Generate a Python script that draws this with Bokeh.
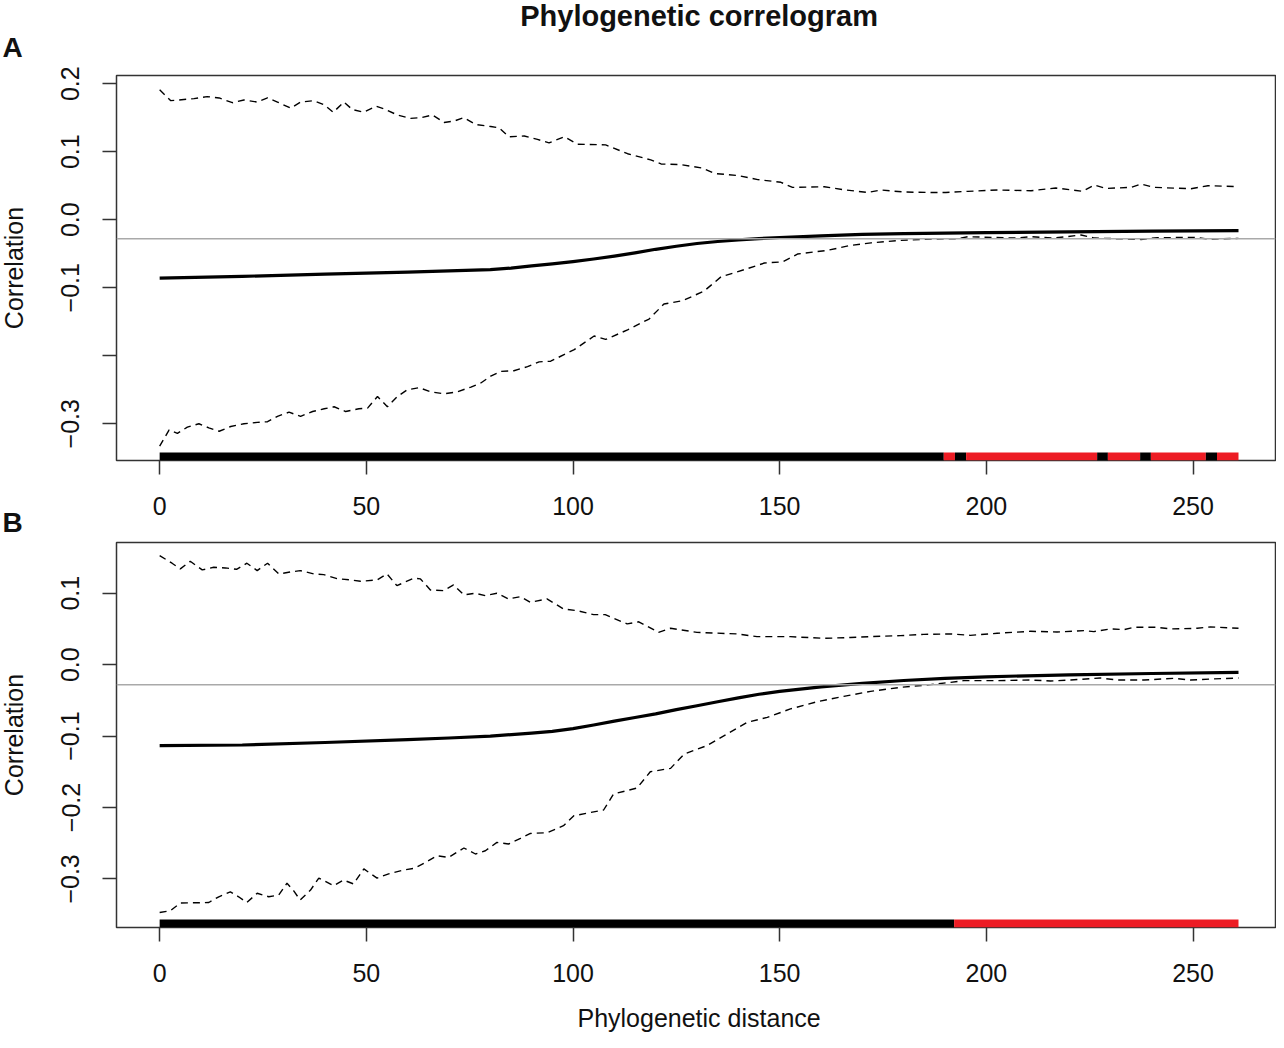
import math
from bokeh.plotting import figure
from bokeh.models import Range1d, FixedTicker, Label, Span
from bokeh.layouts import column
from bokeh.embed import file_html
from bokeh.resources import INLINE

# ---------------- data ----------------
x_ticks = [0, 50, 100, 150, 200, 250]
x_tick_labels = ["0", "50", "100", "150", "200", "250"]

yA_ticks = [-0.3, -0.2, -0.1, 0.0, 0.1, 0.2]
yA_tick_labels = ["\u22120.3", "", "\u22120.1", "0.0", "0.1", "0.2"]
yB_ticks = [-0.3, -0.2, -0.1, 0.0, 0.1]
yB_tick_labels = ["\u22120.3", "\u22120.2", "\u22120.1", "0.0", "0.1"]

# Panel A: correlation curve
A_corr_x = [0, 20, 40, 60, 80, 85, 90, 95, 100, 105, 110, 115, 120, 125, 130, 135, 140, 145,
            150, 160, 170, 180, 200, 220, 240, 261]
A_corr_y = [-0.0858, -0.0833, -0.0800, -0.0770, -0.0735, -0.0712, -0.0680, -0.0650, -0.0615,
            -0.0578, -0.0535, -0.0487, -0.0435, -0.0390, -0.0350, -0.0320, -0.0297, -0.0277,
            -0.0262, -0.0237, -0.0217, -0.0205, -0.0190, -0.0178, -0.0168, -0.0160]

# Panel A: upper confidence envelope
A_up_x = [0, 2.7, 8.3, 11.5, 14.4, 17.6, 20.4, 23.6, 26.1, 28.5, 31.7, 34.1, 37.3, 39.8, 42.0,
          44.6, 46.6, 49.4, 52.3, 54.3, 57.5, 60.7, 63.2, 66.0, 68.8, 71.2, 73.6, 76.5, 80.1,
          82.1, 84.5, 88.2, 91.4, 94.2, 97.9, 101.1, 107.9, 113.2, 118.8, 121.3, 126.1, 131.3,
          134.2, 139.8, 144.7, 150.3, 153.1, 160.8, 165.6, 171.3, 174.5, 180.1, 186.6, 190.2,
          195.5, 202.7, 210.8, 216.8, 223.3, 226.1, 228.9, 235.0, 237.4, 240.6, 249.5, 253.6,
          261]
A_up_y = [0.191, 0.175, 0.178, 0.181, 0.179, 0.172, 0.176, 0.173, 0.179, 0.173, 0.164, 0.173,
          0.175, 0.169, 0.158, 0.173, 0.162, 0.158, 0.167, 0.163, 0.154, 0.149, 0.150, 0.154,
          0.143, 0.145, 0.150, 0.140, 0.137, 0.135, 0.122, 0.123, 0.118, 0.113, 0.122, 0.111,
          0.110, 0.097, 0.088, 0.082, 0.081, 0.076, 0.068, 0.065, 0.059, 0.055, 0.0475, 0.0485,
          0.044, 0.040, 0.0437, 0.0407, 0.040, 0.040, 0.0417, 0.0437, 0.0426, 0.0466, 0.0417,
          0.051, 0.046, 0.0475, 0.0525, 0.0475, 0.0456, 0.050, 0.0485]

# Panel A: lower confidence envelope
A_lo_x = [0, 2.3, 4.3, 6.7, 9.5, 11.9, 14.4, 17.2, 20.4, 23.6, 26.1, 28.5, 31.3, 34.1, 37.0,
          39.8, 42.2, 45.0, 48.2, 50.3, 52.7, 55.1, 57.5, 59.9, 62.8, 65.6, 68.8, 72.0, 75.3,
          77.7, 80.1, 82.5, 85.7, 89.0, 91.8, 94.6, 100.3, 105.1, 107.9, 113.2, 118.4, 122.0,
          126.5, 131.7, 135.8, 141.4, 146.3, 150.7, 154.3, 161.6, 167.2, 172.1, 179.3, 186.6,
          193.0, 195.5, 206.8, 210.8, 216.4, 222.9, 226.1, 237.4, 241.4, 250.3, 253.6, 261]
A_lo_y = [-0.333, -0.309, -0.314, -0.305, -0.300, -0.306, -0.311, -0.304, -0.300, -0.298,
          -0.297, -0.289, -0.283, -0.289, -0.282, -0.278, -0.275, -0.282, -0.278, -0.277,
          -0.260, -0.275, -0.260, -0.250, -0.247, -0.253, -0.256, -0.253, -0.246, -0.240,
          -0.230, -0.223, -0.222, -0.216, -0.209, -0.208, -0.191, -0.171, -0.176, -0.162,
          -0.146, -0.124, -0.119, -0.105, -0.084, -0.0735, -0.0637, -0.062, -0.0505, -0.045,
          -0.0377, -0.034, -0.0304, -0.0284, -0.028, -0.025, -0.027, -0.025, -0.027, -0.0225,
          -0.027, -0.029, -0.0265, -0.026, -0.0284, -0.0275]

# Panel A: significance bar (breaks along distance, significant = red)
A_bar_breaks = [0, 189.7, 192.4, 195.1, 226.8, 229.4, 237.2, 239.8, 253.1, 255.8, 261]
A_bar_signif = [False, True, False, True, False, True, False, True, False, True]

# Panel B: correlation curve
B_corr_x = [0, 20, 40, 60, 70, 80, 90, 95, 100, 105, 110, 115, 120, 125, 130, 135, 140, 145,
            150, 160, 170, 180, 190, 200, 220, 240, 261]
B_corr_y = [-0.1134, -0.1125, -0.1090, -0.1050, -0.1027, -0.1000, -0.0960, -0.0935, -0.0895,
            -0.0845, -0.0790, -0.0740, -0.0690, -0.0630, -0.0575, -0.0520, -0.0465, -0.0415,
            -0.0375, -0.0310, -0.0262, -0.0222, -0.0192, -0.0170, -0.0142, -0.0124, -0.0108]

# Panel B: upper confidence envelope
B_up_x = [0, 3.0, 5.0, 7.4, 10.3, 13.1, 15.9, 18.6, 21.1, 23.6, 26.1, 28.8, 31.2, 34.0, 37.3,
          39.7, 42.9, 46.1, 48.6, 52.6, 55.0, 57.4, 61.5, 63.1, 65.5, 68.7, 71.1, 73.6, 76.4,
          78.8, 81.6, 84.4, 87.3, 89.7, 93.7, 97.7, 101.0, 105.0, 107.8, 113.1, 115.9, 120.7,
          123.6, 130.0, 139.7, 144.5, 152.6, 160.7, 167.1, 172.0, 179.2, 184.9, 191.3, 196.1,
          202.6, 210.7, 217.1, 223.6, 226.0, 230.0, 233.3, 235.7, 241.3, 244.6, 251.0, 254.2,
          261]
B_up_y = [0.1527, 0.142, 0.134, 0.1447, 0.1326, 0.1363, 0.1354, 0.1335, 0.142, 0.1317, 0.142,
          0.127, 0.1293, 0.1317, 0.127, 0.126, 0.1205, 0.1186, 0.1167, 0.1186, 0.127, 0.1106,
          0.121, 0.120, 0.1046, 0.1036, 0.1116, 0.0976, 0.0999, 0.0966, 0.0999, 0.092, 0.0952,
          0.0873, 0.092, 0.078, 0.0756, 0.070, 0.070, 0.057, 0.060, 0.0452, 0.0509, 0.0452,
          0.043, 0.0392, 0.0392, 0.0368, 0.038, 0.0392, 0.0406, 0.0424, 0.043, 0.041, 0.0439,
          0.0467, 0.0457, 0.0476, 0.0462, 0.050, 0.049, 0.0523, 0.0523, 0.050, 0.0509, 0.0528,
          0.0509]

# Panel B: lower confidence envelope
B_lo_x = [0, 2.6, 5.0, 11.9, 14.3, 17.1, 19.1, 21.1, 23.6, 26.4, 28.8, 30.8, 32.4, 34.0, 36.5,
          38.5, 42.1, 44.5, 46.9, 49.4, 52.6, 55.4, 59.0, 61.5, 64.3, 67.1, 69.9, 73.6, 76.4,
          78.8, 81.6, 84.4, 87.3, 89.7, 93.7, 97.7, 100.2, 107.4, 109.8, 115.5, 118.7, 123.6,
          126.9, 132.4, 137.3, 142.1, 147.0, 152.6, 159.1, 165.5, 172.0, 179.2, 186.5, 191.3,
          194.5, 202.6, 210.7, 215.5, 220.4, 227.6, 231.7, 238.1, 245.4, 249.4, 255.0, 261]
B_lo_y = [-0.347, -0.3445, -0.3338, -0.333, -0.325, -0.318, -0.325, -0.333, -0.320, -0.325,
          -0.3226, -0.306, -0.3165, -0.3296, -0.3156, -0.2988, -0.3095, -0.3016, -0.307,
          -0.286, -0.2988, -0.293, -0.2876, -0.2853, -0.2769, -0.2675, -0.2699, -0.2567,
          -0.2651, -0.2605, -0.2489, -0.2511, -0.2433, -0.2363, -0.2353, -0.2255, -0.2115,
          -0.2035, -0.1811, -0.1727, -0.1499, -0.1452, -0.1251, -0.1134, -0.0971, -0.0808,
          -0.0738, -0.062, -0.0518, -0.0444, -0.0374, -0.0318, -0.028, -0.0248, -0.0224,
          -0.0224, -0.0215, -0.0229, -0.0215, -0.0187, -0.0215, -0.0215, -0.0192, -0.0215,
          -0.020, -0.0187]

# Panel B: significance bar
B_bar_breaks = [0, 192.2, 261]
B_bar_signif = [False, True]

# Expected correlation under the null hypothesis (grey line)
A_null = -0.028
B_null = -0.028

# ---------------- styling ----------------
FONT = "Liberation Sans"
RED = "#ED1C24"
BLACK = "#000000"
FRAME = "#333333"
TXT = "#111111"

X_RANGE = (-10.44, 269.95)
X_CENTER = 130.5
YA_RANGE = (-0.354, 0.212)
YB_RANGE = (-0.368, 0.171)

W = 1276
FRAME_H = 385
LEFT = 116


def make_panel(height, border_top, border_bottom, y_range, yticks, ylabels,
               cx, cy, ux, uy, lx, ly, breaks, signif, null):
    p = figure(width=W, height=height, output_backend="svg", toolbar_location=None,
               title=None, x_range=Range1d(*X_RANGE), y_range=Range1d(*y_range),
               min_border_left=LEFT, min_border_right=1,
               min_border_top=border_top, min_border_bottom=border_bottom)
    p.background_fill_color = "white"
    p.border_fill_color = "white"
    p.outline_line_color = FRAME
    p.outline_line_width = 1.5
    p.xgrid.visible = False
    p.ygrid.visible = False

    for ax in (p.xaxis[0], p.yaxis[0]):
        ax.axis_line_color = None
        ax.major_tick_line_color = FRAME
        ax.major_tick_line_width = 1.5
        ax.major_tick_out = 14
        ax.major_tick_in = 0
        ax.minor_tick_line_color = None
        ax.major_label_text_font = FONT
        ax.major_label_text_font_size = "25px"
        ax.major_label_text_color = TXT

    p.xaxis.ticker = FixedTicker(ticks=x_ticks)
    p.xaxis.major_label_overrides = {float(t): s for t, s in zip(x_ticks, x_tick_labels)}
    p.xaxis.major_label_standoff = 22

    p.yaxis.ticker = FixedTicker(ticks=yticks)
    p.yaxis.major_label_overrides = {float(t): s for t, s in zip(yticks, ylabels)}
    p.yaxis.major_label_orientation = "vertical"
    p.yaxis.major_label_standoff = 23

    p.add_layout(Span(location=null, dimension="width", line_color="#a9a9a9", line_width=1.5))

    p.line(ux, uy, line_color=BLACK, line_width=1.4, line_dash="7 5")
    p.line(lx, ly, line_color=BLACK, line_width=1.4, line_dash="7 5")
    p.line(cx, cy, line_color=BLACK, line_width=3.2, line_join="round")

    y0, y1 = y_range
    bar_h = (y1 - y0) * 8.0 / FRAME_H
    p.quad(left=breaks[:-1], right=breaks[1:], bottom=[y0] * len(signif),
           top=[y0 + bar_h] * len(signif),
           fill_color=[RED if s else BLACK for s in signif], line_color=None)

    # y-axis title, placed in the left side panel so it is not clipped to the frame
    p.add_layout(Label(x=X_RANGE[0], y=(y0 + y1) / 2, x_offset=-(LEFT - 13), angle=math.pi / 2,
                       text="Correlation", text_align="center", text_baseline="alphabetic",
                       text_font=FONT, text_font_size="25px", text_color=TXT), "left")
    return p


pA = make_panel(538, 75, 78, YA_RANGE, yA_ticks, yA_tick_labels,
                A_corr_x, A_corr_y, A_up_x, A_up_y, A_lo_x, A_lo_y,
                A_bar_breaks, A_bar_signif, A_null)
pB = make_panel(494, 4, 105, YB_RANGE, yB_ticks, yB_tick_labels,
                B_corr_x, B_corr_y, B_up_x, B_up_y, B_lo_x, B_lo_y,
                B_bar_breaks, B_bar_signif, B_null)

pA.add_layout(Label(x=X_CENTER, y=YA_RANGE[1], y_offset=60, text="Phylogenetic correlogram",
                    text_align="center", text_baseline="alphabetic", text_font=FONT,
                    text_font_size="29px", text_font_style="bold", text_color=TXT), "above")
pA.add_layout(Label(x=X_RANGE[0], y=YA_RANGE[1], x_offset=-(LEFT - 2), y_offset=28, text="A",
                    text_align="left", text_baseline="alphabetic", text_font=FONT,
                    text_font_size="28px", text_font_style="bold", text_color=TXT), "above")
pA.add_layout(Label(x=X_RANGE[0], y=YA_RANGE[0], x_offset=-(LEFT - 2), y_offset=-62, text="B",
                    text_align="left", text_baseline="alphabetic", text_font=FONT,
                    text_font_size="28px", text_font_style="bold", text_color=TXT), "left")
pB.add_layout(Label(x=X_CENTER, y=YB_RANGE[0], y_offset=-90, text="Phylogenetic distance",
                    text_align="center", text_baseline="alphabetic", text_font=FONT,
                    text_font_size="25px", text_color=TXT), "below")

layout = column(pA, pB)
open("out.html", "w").write(file_html(layout, INLINE))
